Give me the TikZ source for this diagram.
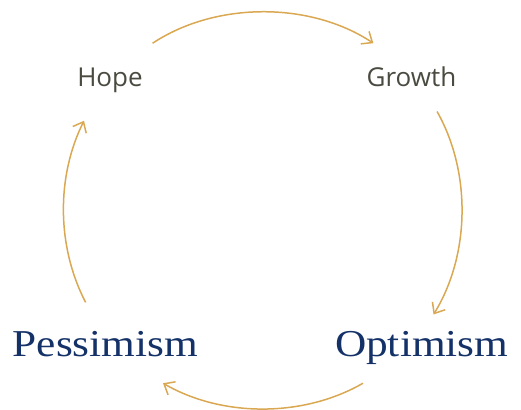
\documentclass[tikz,border=0pt]{standalone}
\usepackage{fontspec}
\usepackage{tikz}
\usetikzlibrary{arrows.meta}
\newfontfamily\stagefont{Open Sans}
\newfontfamily\moodfont[FakeStretch=1.14]{Liberation Serif}
\definecolor{cycgold}{RGB}{218,168,82}
\definecolor{stagegrey}{RGB}{74,74,64}
\definecolor{moodnavy}{RGB}{20,50,104}
\tikzset{stage/.style={inner sep=0pt,anchor=base,text=stagegrey,font=\stagefont\fontsize{26}{30}\selectfont},
	 mood/.style={inner sep=0pt,anchor=base,text=moodnavy,font=\moodfont\fontsize{38}{44}\selectfont},
	 cyc/.style={draw=cycgold,line width=1.5pt,looseness=0.88,-{Straight Barb[length=9pt,width=15pt,line width=1.5pt]}}
	 }

\begin{document}
\begin{tikzpicture}[x=1pt,y=1pt]% market cycle
        \useasboundingbox (-263,-199) rectangle (258,210);
        \node[stage] (hope) at (-153,123.3) {Hope};
        \node[stage] (growth) at (148.5,123.3) {Growth};
        \node[mood] (pess) at (-157.5,-146.7) {Pessimism};
        \node[mood] (opt) at (158.7,-146.7) {Optimism};
        % ends of the four arcs, on a circle of radius 200
        \coordinate (h1) at (123.5:200);
        \coordinate (g0) at (56.5:200);
        \coordinate (g1) at (29.5:200);
        \coordinate (o0) at (-31.5:200);
        \coordinate (o1) at (-60:200);
        \coordinate (p0) at (-120:200);
        \coordinate (p1) at (207.5:200);
        \coordinate (h0) at (153.5:200);
        \draw[cyc] (h1) to[bend left=33.5] (g0);
        \draw[cyc] (g1) to[bend left=30.5] (o0);
        \draw[cyc] (o1) to[bend left=30] (p0);
        \draw[cyc] (p1) to[bend left=27] (h0);
     \end{tikzpicture}
\end{document}
